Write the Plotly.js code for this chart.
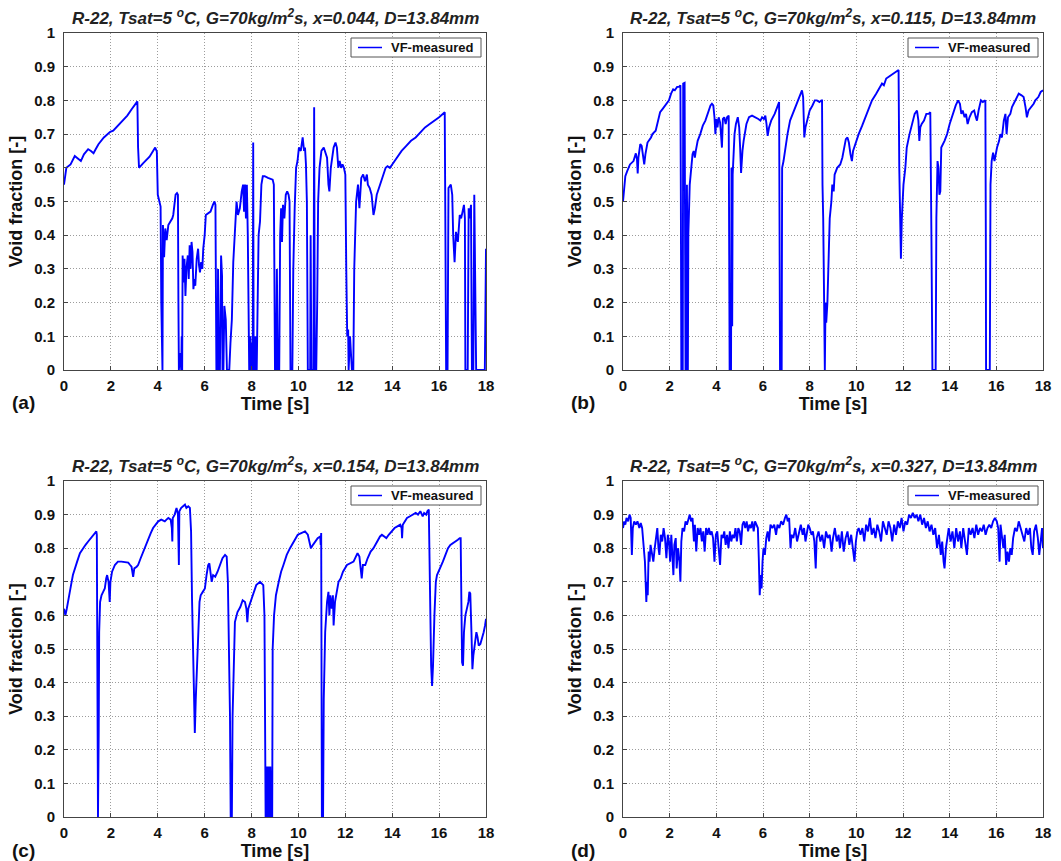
<!DOCTYPE html>
<html>
<head>
<meta charset="utf-8">
<script src="https://cdn.plot.ly/plotly-3.0.1.min.js"></script>
<style>
  html, body { margin: 0; padding: 0; background: #ffffff; }
  #chart { width: 1061px; height: 861px; }
</style>
</head>
<body>
<div id="chart"></div>
<script>
// Void fraction time traces, R-22, Tsat = 5 °C, G = 70 kg/m²s, D = 13.84 mm

const panelTitles = [
  "R-22, Tsat=5 <sup>o</sup>C, G=70kg/m<sup>2</sup>s, x=0.044, D=13.84mm",
  "R-22, Tsat=5 <sup>o</sup>C, G=70kg/m<sup>2</sup>s, x=0.115, D=13.84mm",
  "R-22, Tsat=5 <sup>o</sup>C, G=70kg/m<sup>2</sup>s, x=0.154, D=13.84mm",
  "R-22, Tsat=5 <sup>o</sup>C, G=70kg/m<sup>2</sup>s, x=0.327, D=13.84mm"
];
const panelLabels = ["(a)", "(b)", "(c)", "(d)"];
const seriesName = "VF-measured";
const xTickVals = [0, 2, 4, 6, 8, 10, 12, 14, 16, 18];
const yTickVals = [0, 0.1, 0.2, 0.3, 0.4, 0.5, 0.6, 0.7, 0.8, 0.9, 1];

// (a) x = 0.044
const timeA = [0.00,0.05,0.10,0.28,0.40,0.46,0.55,0.72,0.85,1.03,1.15,1.26,1.35,1.47,1.70,1.97,2.10,2.30,2.53,2.70,2.90,3.13,3.16,3.20,3.37,3.65,3.89,3.96,4.00,4.08,4.12,4.15,4.17,4.20,4.22,4.27,4.32,4.38,4.45,4.55,4.62,4.66,4.70,4.76,4.82,4.86,4.88,4.90,4.95,4.97,5.00,5.02,5.04,5.06,5.10,5.14,5.18,5.22,5.28,5.32,5.36,5.40,5.44,5.48,5.52,5.56,5.60,5.66,5.72,5.76,5.80,5.85,5.90,5.94,6.00,6.05,6.15,6.25,6.35,6.42,6.46,6.48,6.50,6.55,6.57,6.60,6.65,6.70,6.74,6.76,6.80,6.84,6.90,6.95,7.05,7.10,7.16,7.22,7.30,7.36,7.42,7.50,7.58,7.64,7.68,7.72,7.76,7.80,7.84,7.86,7.90,7.95,7.98,8.02,8.05,8.07,8.09,8.12,8.15,8.20,8.22,8.26,8.30,8.36,8.42,8.48,8.56,8.70,8.90,8.95,8.98,9.00,9.05,9.08,9.12,9.18,9.22,9.26,9.30,9.34,9.40,9.46,9.52,9.58,9.62,9.64,9.66,9.74,9.78,9.84,9.90,9.96,10.02,10.10,10.18,10.24,10.28,10.32,10.36,10.40,10.50,10.52,10.55,10.64,10.67,10.70,10.76,10.80,10.84,10.90,10.98,11.08,11.16,11.22,11.28,11.32,11.38,11.44,11.50,11.58,11.64,11.70,11.76,11.82,11.88,11.94,12.00,12.04,12.08,12.12,12.14,12.20,12.24,12.28,12.34,12.38,12.46,12.54,12.60,12.68,12.76,12.84,12.92,12.96,13.04,13.12,13.20,13.26,13.34,13.44,13.54,13.64,13.72,13.80,13.90,14.00,14.20,14.40,14.60,14.80,15.00,15.20,15.40,15.60,15.80,16.00,16.24,16.27,16.30,16.36,16.40,16.50,16.56,16.60,16.66,16.72,16.80,16.88,16.94,17.00,17.06,17.10,17.12,17.22,17.26,17.30,17.36,17.40,17.46,17.50,17.54,17.58,17.95,17.98,18.00];
const vfA = [0.55,0.58,0.60,0.61,0.625,0.635,0.63,0.62,0.64,0.655,0.65,0.643,0.655,0.67,0.69,0.707,0.71,0.725,0.742,0.755,0.775,0.797,0.66,0.60,0.613,0.633,0.66,0.648,0.52,0.49,0.485,0.20,0.0,0.0,0.43,0.335,0.42,0.385,0.43,0.44,0.45,0.46,0.495,0.52,0.525,0.52,0.20,0.0,0.05,0.0,0.0,0.10,0.0,0.34,0.26,0.33,0.22,0.30,0.34,0.27,0.37,0.30,0.38,0.35,0.24,0.27,0.25,0.33,0.36,0.31,0.29,0.32,0.30,0.36,0.40,0.46,0.465,0.47,0.49,0.50,0.49,0.10,0.0,0.0,0.30,0.0,0.0,0.34,0.28,0.0,0.0,0.19,0.15,0.0,0.0,0.08,0.15,0.32,0.45,0.50,0.46,0.48,0.53,0.55,0.47,0.55,0.45,0.55,0.40,0.20,0.0,0.10,0.0,0.08,0.0,0.675,0.0,0.10,0.0,0.10,0.0,0.20,0.40,0.44,0.55,0.575,0.575,0.57,0.565,0.55,0.30,0.0,0.0,0.30,0.0,0.0,0.40,0.48,0.38,0.49,0.45,0.52,0.53,0.52,0.50,0.30,0.0,0.0,0.30,0.48,0.60,0.62,0.66,0.65,0.69,0.65,0.66,0.61,0.50,0.0,0.0,0.40,0.0,0.0,0.78,0.0,0.0,0.20,0.50,0.60,0.65,0.66,0.64,0.63,0.55,0.53,0.60,0.63,0.66,0.675,0.66,0.60,0.62,0.60,0.61,0.60,0.58,0.30,0.10,0.12,0.0,0.10,0.05,0.0,0.0,0.30,0.50,0.55,0.48,0.57,0.58,0.56,0.58,0.55,0.54,0.52,0.46,0.48,0.52,0.54,0.56,0.58,0.60,0.605,0.60,0.61,0.63,0.65,0.665,0.68,0.69,0.705,0.72,0.73,0.74,0.75,0.765,0.30,0.0,0.0,0.54,0.55,0.52,0.40,0.32,0.41,0.38,0.46,0.45,0.47,0.49,0.45,0.0,0.0,0.48,0.45,0.49,0.0,0.0,0.52,0.30,0.0,0.0,0.20,0.36];

// (b) x = 0.115
const timeB = [0.00,0.04,0.10,0.18,0.30,0.45,0.55,0.60,0.63,0.66,0.74,0.80,0.86,0.91,0.96,1.05,1.20,1.26,1.40,1.50,1.59,1.70,1.83,1.97,2.06,2.15,2.22,2.32,2.40,2.46,2.48,2.50,2.56,2.58,2.64,2.66,2.68,2.72,2.74,2.76,2.78,2.80,2.86,2.92,2.98,3.03,3.08,3.12,3.20,3.31,3.42,3.53,3.65,3.75,3.81,3.87,3.92,3.96,4.00,4.05,4.10,4.16,4.20,4.24,4.28,4.34,4.40,4.46,4.53,4.55,4.57,4.63,4.65,4.68,4.70,4.78,4.84,4.92,4.98,5.02,5.06,5.12,5.17,5.29,5.40,5.53,5.70,5.80,5.89,5.96,6.04,6.10,6.15,6.20,6.26,6.35,6.50,6.62,6.69,6.71,6.73,6.80,6.82,6.88,6.96,7.05,7.16,7.28,7.39,7.50,7.60,7.67,7.72,7.74,7.77,7.82,7.90,8.00,8.12,8.22,8.31,8.42,8.50,8.53,8.55,8.58,8.62,8.65,8.68,8.71,8.76,8.80,8.86,8.93,8.97,9.03,9.07,9.18,9.31,9.40,9.46,9.55,9.62,9.68,9.75,9.81,9.86,9.95,10.10,10.25,10.39,10.52,10.67,10.85,11.03,11.10,11.18,11.28,11.39,11.50,11.60,11.70,11.81,11.84,11.88,11.91,11.95,12.02,12.10,12.16,12.28,12.40,12.50,12.60,12.66,12.70,12.74,12.80,12.90,13.00,13.10,13.17,13.19,13.22,13.26,13.40,13.43,13.48,13.52,13.56,13.60,13.64,13.78,13.89,14.00,14.14,14.26,14.36,14.44,14.50,14.56,14.64,14.70,14.77,14.85,14.95,15.05,15.12,15.17,15.24,15.34,15.42,15.53,15.55,15.56,15.72,15.75,15.80,15.86,15.92,16.03,16.12,16.17,16.24,16.32,16.39,16.44,16.50,16.60,16.67,16.80,16.96,17.08,17.17,17.25,17.31,17.38,17.50,17.60,17.67,17.80,17.90,18.00];
const vfB = [0.50,0.535,0.575,0.59,0.61,0.62,0.643,0.625,0.583,0.63,0.67,0.665,0.63,0.61,0.64,0.675,0.69,0.70,0.71,0.74,0.765,0.775,0.786,0.80,0.82,0.833,0.83,0.84,0.84,0.845,0.50,0.0,0.0,0.85,0.852,0.50,0.0,0.0,0.55,0.30,0.0,0.40,0.55,0.60,0.64,0.65,0.63,0.65,0.68,0.70,0.725,0.74,0.765,0.785,0.79,0.785,0.75,0.70,0.745,0.72,0.75,0.735,0.70,0.66,0.745,0.75,0.73,0.75,0.755,0.45,0.0,0.0,0.60,0.13,0.58,0.70,0.73,0.75,0.72,0.66,0.585,0.65,0.68,0.73,0.75,0.755,0.75,0.745,0.74,0.75,0.745,0.755,0.73,0.695,0.72,0.74,0.76,0.78,0.795,0.40,0.0,0.0,0.60,0.62,0.66,0.70,0.74,0.76,0.78,0.80,0.815,0.83,0.81,0.72,0.69,0.72,0.74,0.77,0.785,0.80,0.80,0.795,0.80,0.80,0.55,0.45,0.20,0.0,0.20,0.14,0.20,0.30,0.45,0.50,0.55,0.53,0.58,0.60,0.61,0.63,0.65,0.685,0.69,0.675,0.64,0.62,0.65,0.67,0.70,0.725,0.75,0.77,0.80,0.82,0.84,0.85,0.845,0.865,0.87,0.875,0.88,0.885,0.89,0.60,0.40,0.33,0.45,0.55,0.60,0.66,0.70,0.73,0.76,0.77,0.74,0.68,0.72,0.73,0.74,0.76,0.76,0.765,0.40,0.38,0.0,0.0,0.45,0.62,0.60,0.52,0.53,0.66,0.68,0.70,0.73,0.76,0.785,0.80,0.79,0.76,0.77,0.75,0.76,0.73,0.75,0.765,0.77,0.75,0.74,0.77,0.80,0.795,0.80,0.40,0.0,0.0,0.55,0.62,0.645,0.62,0.66,0.68,0.70,0.69,0.74,0.76,0.70,0.75,0.76,0.78,0.80,0.82,0.815,0.81,0.78,0.75,0.77,0.78,0.79,0.80,0.81,0.825,0.83];

// (c) x = 0.154
const timeC = [0.00,0.06,0.12,0.18,0.24,0.30,0.38,0.46,0.56,0.68,0.81,0.92,1.03,1.14,1.24,1.32,1.38,1.40,1.42,1.45,1.48,1.50,1.54,1.60,1.67,1.74,1.80,1.84,1.90,1.95,1.98,2.05,2.17,2.30,2.45,2.60,2.74,2.82,2.88,2.95,3.00,3.10,3.16,3.27,3.38,3.48,3.59,3.70,3.80,3.92,4.02,4.15,4.30,4.37,4.45,4.55,4.60,4.62,4.64,4.72,4.80,4.86,4.90,4.92,5.00,5.08,5.16,5.22,5.30,5.37,5.42,5.46,5.51,5.54,5.58,5.62,5.66,5.73,5.78,5.83,5.92,6.01,6.08,6.15,6.20,6.25,6.30,6.36,6.45,6.55,6.65,6.76,6.87,6.94,6.99,7.05,7.08,7.11,7.16,7.19,7.24,7.29,7.40,7.52,7.62,7.72,7.78,7.82,7.86,7.95,8.08,8.20,8.36,8.45,8.50,8.55,8.58,8.60,8.64,8.68,8.72,8.76,8.80,8.84,8.88,8.90,8.96,9.04,9.16,9.26,9.36,9.50,9.64,9.80,9.97,10.12,10.28,10.40,10.46,10.53,10.62,10.71,10.82,10.93,10.95,10.97,11.00,11.05,11.08,11.14,11.22,11.28,11.32,11.36,11.42,11.47,11.50,11.56,11.64,11.71,11.80,11.90,12.07,12.22,12.35,12.45,12.52,12.60,12.66,12.70,12.75,12.85,12.95,13.08,13.20,13.35,13.48,13.56,13.66,13.75,13.85,13.99,14.10,14.22,14.34,14.40,14.42,14.45,14.55,14.63,14.76,14.91,15.00,15.10,15.20,15.30,15.36,15.45,15.50,15.56,15.58,15.62,15.66,15.70,15.74,15.80,15.86,15.91,16.05,16.16,16.27,16.38,16.48,16.60,16.70,16.80,16.88,16.92,16.94,16.98,17.02,17.06,17.12,17.19,17.25,17.29,17.33,17.38,17.42,17.46,17.52,17.59,17.64,17.69,17.76,17.83,17.90,17.96,18.00];
const vfC = [0.62,0.60,0.62,0.64,0.66,0.69,0.72,0.74,0.76,0.785,0.80,0.81,0.82,0.83,0.84,0.845,0.85,0.84,0.42,0.0,0.25,0.55,0.64,0.66,0.67,0.68,0.71,0.72,0.70,0.64,0.70,0.73,0.75,0.76,0.76,0.758,0.757,0.75,0.745,0.715,0.74,0.745,0.75,0.77,0.79,0.81,0.83,0.845,0.86,0.87,0.88,0.885,0.88,0.885,0.89,0.885,0.86,0.82,0.89,0.90,0.92,0.90,0.75,0.91,0.92,0.925,0.93,0.92,0.925,0.92,0.85,0.65,0.47,0.30,0.25,0.35,0.45,0.55,0.64,0.66,0.67,0.68,0.72,0.75,0.755,0.72,0.70,0.72,0.715,0.73,0.75,0.77,0.78,0.775,0.70,0.50,0.30,0.0,0.0,0.30,0.50,0.58,0.61,0.625,0.645,0.64,0.62,0.58,0.62,0.64,0.67,0.69,0.70,0.695,0.69,0.60,0.30,0.0,0.15,0.0,0.15,0.0,0.15,0.0,0.0,0.50,0.60,0.66,0.70,0.73,0.75,0.78,0.80,0.82,0.84,0.845,0.85,0.84,0.82,0.80,0.81,0.82,0.83,0.835,0.81,0.845,0.0,0.0,0.35,0.55,0.64,0.67,0.60,0.66,0.62,0.66,0.57,0.64,0.67,0.70,0.71,0.73,0.75,0.755,0.76,0.775,0.785,0.775,0.74,0.71,0.75,0.75,0.77,0.79,0.80,0.82,0.835,0.84,0.835,0.83,0.84,0.85,0.86,0.865,0.87,0.86,0.83,0.87,0.88,0.89,0.895,0.90,0.905,0.90,0.91,0.895,0.905,0.90,0.91,0.915,0.80,0.55,0.45,0.39,0.45,0.60,0.70,0.72,0.74,0.76,0.78,0.80,0.81,0.815,0.82,0.825,0.83,0.83,0.70,0.46,0.45,0.55,0.60,0.62,0.64,0.67,0.665,0.55,0.44,0.48,0.52,0.55,0.535,0.51,0.515,0.53,0.55,0.57,0.59];

// (d) x = 0.327
const timeD = [0.00,0.05,0.10,0.15,0.22,0.28,0.33,0.36,0.38,0.42,0.48,0.55,0.62,0.70,0.76,0.82,0.86,0.90,0.94,0.98,1.00,1.03,1.06,1.10,1.14,1.18,1.24,1.30,1.36,1.42,1.47,1.52,1.56,1.62,1.68,1.74,1.80,1.86,1.92,1.97,2.02,2.07,2.12,2.16,2.20,2.26,2.30,2.36,2.42,2.46,2.50,2.55,2.62,2.68,2.74,2.80,2.86,2.92,2.98,3.04,3.08,3.14,3.20,3.26,3.32,3.38,3.44,3.50,3.56,3.62,3.68,3.74,3.80,3.86,3.92,3.98,4.04,4.10,4.16,4.22,4.28,4.34,4.40,4.46,4.52,4.58,4.64,4.70,4.76,4.82,4.88,4.94,5.00,5.06,5.12,5.18,5.24,5.30,5.36,5.42,5.48,5.54,5.60,5.66,5.72,5.78,5.82,5.86,5.90,5.94,5.98,6.02,6.08,6.14,6.20,6.26,6.32,6.40,6.48,6.56,6.62,6.70,6.78,6.86,6.94,7.00,7.06,7.12,7.18,7.22,7.30,7.38,7.46,7.54,7.62,7.70,7.76,7.82,7.88,7.94,8.00,8.08,8.14,8.20,8.26,8.30,8.38,8.46,8.54,8.62,8.70,8.78,8.86,8.94,9.00,9.08,9.16,9.24,9.30,9.38,9.46,9.54,9.62,9.70,9.78,9.86,9.92,9.98,10.04,10.10,10.18,10.26,10.34,10.42,10.50,10.58,10.66,10.74,10.82,10.90,10.98,11.06,11.14,11.22,11.30,11.38,11.46,11.54,11.62,11.70,11.78,11.86,11.94,12.02,12.10,12.18,12.26,12.34,12.42,12.50,12.58,12.66,12.74,12.82,12.90,12.98,13.06,13.14,13.22,13.30,13.38,13.46,13.54,13.62,13.68,13.74,13.78,13.84,13.90,13.96,14.04,14.12,14.20,14.28,14.36,14.44,14.50,14.58,14.66,14.74,14.82,14.90,14.98,15.06,15.14,15.22,15.30,15.38,15.46,15.54,15.62,15.70,15.78,15.86,15.94,16.02,16.08,16.14,16.18,16.24,16.30,16.36,16.42,16.48,16.54,16.60,16.66,16.72,16.80,16.88,16.96,17.04,17.12,17.20,17.28,17.36,17.44,17.50,17.56,17.62,17.70,17.78,17.84,17.90,17.96,18.00];
const vfD = [0.86,0.88,0.87,0.89,0.88,0.90,0.89,0.84,0.78,0.86,0.88,0.87,0.88,0.86,0.875,0.86,0.82,0.80,0.76,0.68,0.64,0.70,0.66,0.79,0.76,0.81,0.78,0.76,0.80,0.84,0.86,0.80,0.78,0.84,0.82,0.86,0.83,0.77,0.84,0.82,0.76,0.84,0.78,0.72,0.81,0.83,0.74,0.80,0.76,0.70,0.82,0.86,0.85,0.88,0.87,0.89,0.90,0.88,0.89,0.82,0.87,0.79,0.86,0.84,0.86,0.82,0.85,0.79,0.86,0.84,0.86,0.84,0.85,0.83,0.76,0.84,0.85,0.80,0.75,0.84,0.83,0.85,0.81,0.84,0.80,0.85,0.82,0.84,0.83,0.86,0.82,0.86,0.85,0.81,0.87,0.88,0.86,0.88,0.85,0.87,0.86,0.88,0.85,0.88,0.87,0.86,0.77,0.66,0.72,0.68,0.76,0.80,0.78,0.83,0.85,0.82,0.87,0.86,0.87,0.84,0.87,0.86,0.88,0.87,0.89,0.90,0.88,0.89,0.80,0.84,0.83,0.86,0.82,0.85,0.87,0.84,0.86,0.82,0.85,0.87,0.86,0.84,0.85,0.82,0.74,0.83,0.85,0.82,0.84,0.80,0.85,0.83,0.84,0.79,0.83,0.86,0.82,0.84,0.80,0.85,0.79,0.83,0.85,0.81,0.84,0.80,0.76,0.82,0.85,0.86,0.84,0.86,0.82,0.87,0.85,0.89,0.84,0.86,0.83,0.87,0.85,0.82,0.88,0.86,0.84,0.88,0.86,0.82,0.87,0.84,0.88,0.86,0.89,0.85,0.88,0.87,0.90,0.89,0.905,0.89,0.90,0.88,0.90,0.87,0.89,0.86,0.88,0.85,0.87,0.84,0.86,0.80,0.84,0.78,0.82,0.76,0.74,0.80,0.83,0.86,0.82,0.85,0.80,0.86,0.82,0.85,0.80,0.86,0.82,0.78,0.86,0.84,0.86,0.83,0.87,0.84,0.86,0.85,0.87,0.84,0.86,0.87,0.86,0.88,0.89,0.88,0.86,0.76,0.87,0.84,0.80,0.84,0.75,0.79,0.76,0.80,0.78,0.83,0.86,0.85,0.88,0.86,0.84,0.82,0.86,0.84,0.86,0.80,0.78,0.85,0.87,0.83,0.78,0.82,0.86,0.80];

const seriesTimes = [timeA, timeB, timeC, timeD];
const seriesValues = [vfA, vfB, vfC, vfD];

// Figure geometry (pixels) for the 2x2 grid
const W = 1061, H = 861;
const cols = [[64, 486], [623, 1043]];
const rows = [[33, 370], [481, 817]];

const FONT = '"Liberation Sans", Arial, Helvetica, sans-serif';
const LINE_BLUE = '#0000ff';
const px = v => v / W;
const py = v => 1 - v / H;

const traces = [];
const layout = {
  width: W, height: H,
  margin: {l: 0, r: 0, t: 0, b: 0},
  paper_bgcolor: '#ffffff',
  plot_bgcolor: '#ffffff',
  font: {family: FONT, size: 14, color: '#111111'},
  showlegend: false,
  annotations: [],
  shapes: []
};

for (let i = 0; i < 4; i++) {
  const c = cols[i % 2], r = rows[Math.floor(i / 2)];
  const n = i === 0 ? '' : String(i + 1);
  const xa = 'xaxis' + n, ya = 'yaxis' + n;

  traces.push({
    x: seriesTimes[i], y: seriesValues[i],
    xaxis: 'x' + n, yaxis: 'y' + n,
    type: 'scatter', mode: 'lines',
    name: seriesName,
    line: {color: LINE_BLUE, width: 1.9}
  });

  const common = {
    showline: true, mirror: true, linecolor: '#444444', linewidth: 1,
    ticks: 'inside', ticklen: 4, tickcolor: '#444444',
    showgrid: true, gridcolor: '#9c9c9c', griddash: '1px,2px', gridwidth: 1,
    zeroline: false,
    tickfont: {family: FONT, size: 15, color: '#111111', weight: 'bold'}
  };

  layout[xa] = Object.assign({}, common, {
    domain: [px(c[0]), px(c[1])],
    anchor: 'y' + n,
    range: [0, 18],
    tickvals: xTickVals,
    ticklabelstandoff: 2,
    title: {text: 'Time [s]', font: {family: FONT, size: 18, weight: 'bold', color: '#111111'}, standoff: 3}
  });
  layout[ya] = Object.assign({}, common, {
    domain: [py(r[1]), py(r[0])],
    anchor: 'x' + n,
    range: [0, 1],
    tickvals: yTickVals,
    ticklabelstandoff: 5,
    title: {text: 'Void fraction [-]', font: {family: FONT, size: 18, weight: 'bold', color: '#111111'}, standoff: 6}
  });

  // compact legend box in the upper-right corner of each panel
  const bx1 = c[1] - 5, bx0 = bx1 - 130;
  const by0 = r[0] + 5, by1 = by0 + 19;
  const bym = (by0 + by1) / 2;
  layout.shapes.push({
    type: 'rect', xref: 'paper', yref: 'paper',
    x0: px(bx0), x1: px(bx1), y0: py(by1), y1: py(by0),
    line: {color: '#555555', width: 1}, fillcolor: '#ffffff', layer: 'above'
  });
  layout.shapes.push({
    type: 'line', xref: 'paper', yref: 'paper',
    x0: px(bx0 + 7), x1: px(bx0 + 31), y0: py(bym), y1: py(bym),
    line: {color: LINE_BLUE, width: 1.5}, layer: 'above'
  });
  layout.annotations.push({
    text: seriesName,
    xref: 'paper', yref: 'paper',
    x: px(bx0 + 38), y: py(bym),
    xanchor: 'left', yanchor: 'middle',
    showarrow: false,
    font: {family: FONT, size: 13, weight: 'bold', color: '#111111'}
  });

  // panel heading
  layout.annotations.push({
    text: panelTitles[i],
    xref: 'paper', yref: 'paper',
    x: px((c[0] + c[1]) / 2), y: py(r[0] - 16),
    xanchor: 'center', yanchor: 'middle',
    showarrow: false,
    font: {family: FONT, size: 17, style: 'italic', weight: 'bold', color: '#222222'}
  });
  // panel letter
  layout.annotations.push({
    text: panelLabels[i],
    xref: 'paper', yref: 'paper',
    x: px(c[0] - 54), y: py(r[1] + 33),
    xanchor: 'left', yanchor: 'middle',
    showarrow: false,
    font: {family: FONT, size: 19, weight: 'bold', color: '#111111'}
  });
}

Plotly.newPlot('chart', traces, layout, {staticPlot: true, displayModeBar: false});
</script>
</body>
</html>
